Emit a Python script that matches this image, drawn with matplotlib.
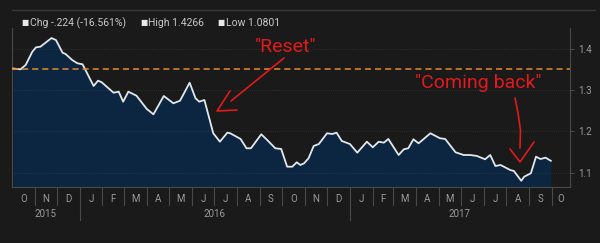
import matplotlib
matplotlib.use('Agg')
import matplotlib.pyplot as plt
import matplotlib.transforms as mtransforms
from matplotlib.lines import Line2D
import pandas as pd

plt.rcParams['font.family'] = ['Roboto', 'DejaVu Sans']

# weekly-ish closes
dates = [
    '2015-10-03', '2015-10-13', '2015-10-20', '2015-10-29', '2015-11-03', '2015-11-09',
    '2015-11-24', '2015-11-30', '2015-12-09', '2015-12-13', '2015-12-22', '2015-12-29',
    '2016-01-05', '2016-01-20', '2016-01-26', '2016-01-31', '2016-02-16', '2016-02-23',
    '2016-02-29', '2016-03-07', '2016-03-18', '2016-04-01', '2016-04-10', '2016-04-24',
    '2016-05-07', '2016-05-16', '2016-05-29', '2016-06-06', '2016-06-11', '2016-06-18',
    '2016-06-30', '2016-07-09', '2016-07-19', '2016-07-23', '2016-08-06', '2016-08-14',
    '2016-08-20', '2016-09-03', '2016-09-11', '2016-09-22', '2016-09-30', '2016-10-08',
    '2016-10-15', '2016-10-21', '2016-10-26', '2016-10-31', '2016-11-06', '2016-11-13',
    '2016-11-20', '2016-12-01', '2016-12-08', '2016-12-14', '2016-12-21', '2017-01-01',
    '2017-01-11', '2017-01-24', '2017-02-01', '2017-02-09', '2017-02-16', '2017-02-22',
    '2017-03-08', '2017-03-15', '2017-03-21', '2017-03-28', '2017-04-04', '2017-04-20',
    '2017-05-03', '2017-05-10', '2017-05-24', '2017-06-04', '2017-06-13', '2017-06-22',
    '2017-07-03', '2017-07-10', '2017-07-17', '2017-07-24', '2017-08-06', '2017-08-11',
    '2017-08-21', '2017-08-25', '2017-09-03', '2017-09-10', '2017-09-16', '2017-09-23',
    '2017-09-30',
]
values = [
    1.3526, 1.3507, 1.3612, 1.3934, 1.4041, 1.4056,
    1.4266, 1.4218, 1.3910, 1.3879, 1.3733, 1.3653,
    1.3629, 1.3102, 1.3231, 1.3192, 1.2939, 1.2964,
    1.2721, 1.2964, 1.2867, 1.2544, 1.2415, 1.2859,
    1.2682, 1.2745, 1.3182, 1.2803, 1.2721, 1.2762,
    1.1954, 1.1750, 1.1968, 1.1954, 1.1816, 1.1590,
    1.1590, 1.1930, 1.1791, 1.1590, 1.1573, 1.1143,
    1.1143, 1.1250, 1.1184, 1.1226, 1.1347, 1.1646,
    1.1694, 1.1954, 1.1937, 1.1968, 1.1767, 1.1694,
    1.1483, 1.1750, 1.1614, 1.1750, 1.1726, 1.1816,
    1.1427, 1.1566, 1.1590, 1.1808, 1.1711, 1.1954,
    1.1833, 1.1816, 1.1493, 1.1427, 1.1427, 1.1403,
    1.1323, 1.1427, 1.1160, 1.1184, 1.1063, 1.1039,
    1.0801, 1.0900, 1.0983, 1.1386, 1.1330, 1.1362,
    1.1286,
]
header = ['Chg -.224 (-16.561%)', 'High 1.4266', 'Low 1.0801']
yticks = [1.1, 1.2, 1.3, 1.4]
month_letters = ['J', 'F', 'M', 'A', 'M', 'J', 'J', 'A', 'S', 'O', 'N', 'D']

BG = '#1a1a1a'
GRAY = '#9a9a9a'
RED = '#e3191b'

x = pd.to_datetime(dates)
xmin, xmax = pd.Timestamp('2015-10-01 12:00'), pd.Timestamp('2017-10-26')
ymin, ymax = 1.065, 1.451

fig = plt.figure(figsize=(6, 2.43), dpi=100, facecolor=BG)
ax = fig.add_axes([12 / 600, 1 - 187 / 243, 558 / 600, 159 / 243])
ax.set_facecolor(BG)

ax.fill_between(x, values, ymin, color='#0c2541', lw=0, zorder=1)
ax.plot(x, values, color='#e2e7ec', lw=1.3, zorder=3)
ax.axhline(values[0], color='#e58a2c', lw=1.1, dashes=(4, 2.6), zorder=4)
for t in yticks:
    ax.axhline(t, color='#505050', lw=0.5, ls=(0, (1, 2)), alpha=0.7, zorder=2)

ax.set_xlim(xmin, xmax)
ax.set_ylim(ymin, ymax)

# right value axis
ax.yaxis.tick_right()
ax.set_yticks(yticks)
ax.set_yticklabels([f'{t:.1f}' for t in yticks])
ax.tick_params(axis='y', colors='#555555', labelcolor=GRAY, labelsize=7, length=3, width=0.6, pad=3)
ax.spines['top'].set_visible(False)
for side in ['left', 'right', 'bottom']:
    ax.spines[side].set_color('#4a4a4a')
    ax.spines[side].set_linewidth(0.8)

# month / year axis drawn by hand
ax.set_xticks([])
trans = mtransforms.blended_transform_factory(ax.transData, ax.transAxes)
px = 1 / 159  # one pixel in axes-fraction height
months = pd.date_range('2015-10-01', '2017-11-01', freq='MS')
for i in range(len(months) - 1):
    start, end = months[i], months[i + 1]
    if start > xmin:
        depth = 33 if start.month == 1 else 18
        ax.add_line(Line2D([start, start], [0, -depth * px], transform=trans,
                           color='#4a4a4a', lw=0.8, clip_on=False))
    lo, hi = max(start, xmin), min(end, xmax)
    mid = lo + (hi - lo) / 2
    ax.text(mid, -12 * px, month_letters[start.month - 1], transform=trans,
            ha='center', va='center', color=GRAY, fontsize=7)
for yr in [2015, 2016, 2017]:
    lo = max(pd.Timestamp(f'{yr}-01-01'), xmin)
    hi = min(pd.Timestamp(f'{yr + 1}-01-01'), xmax)
    ax.text(lo + (hi - lo) / 2, -27 * px, str(yr), transform=trans,
            ha='center', va='center', color=GRAY, fontsize=7)

# header line and legend text
fig.add_artist(Line2D([12 / 600, 595 / 600], [1 - 10 / 243] * 2, color='#383838', lw=1))
for xpos, label in zip([21, 140, 217], header):
    fig.text(xpos / 600, 1 - 23 / 243, '\u25a0', color='#e8e8e8', fontsize=5.5,
             va='center', ha='left', family=['DejaVu Sans'])
    fig.text((xpos + 8.5) / 600, 1 - 23 / 243, label, color='#c8c8c8',
             fontsize=7.5, va='center', ha='left')


# hand-drawn annotations, positions in figure pixels
def fpx(pts):
    return [p[0] / 600 for p in pts], [1 - p[1] / 243 for p in pts]


fig.text(285.5 / 600, 1 - 47 / 243, '"Reset"', color=RED, fontsize=14,
         ha='center', va='center')
fig.text(478 / 600, 1 - 83 / 243, '"Coming back"', color=RED, fontsize=14,
         ha='center', va='center')

strokes = [
    [(284, 58), (231, 101)],
    [(230, 91), (217, 111), (237, 110)],
    [(515, 98), (518, 113), (520.5, 130), (520, 148)],
    [(510, 149), (520, 162), (534, 142)],
]
for s in strokes:
    xs, ys = fpx(s)
    fig.add_artist(Line2D(xs, ys, color=RED, lw=1.2, solid_capstyle='round'))

fig.savefig('out.png', dpi=100, facecolor=BG)
